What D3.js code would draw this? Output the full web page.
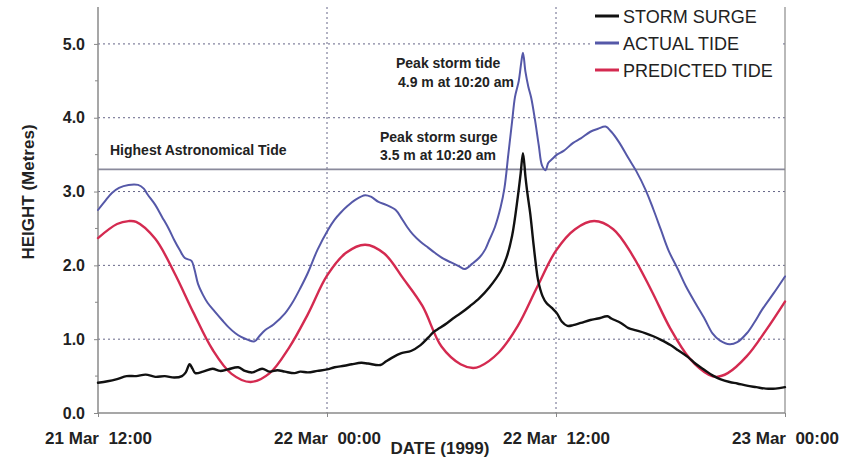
<!DOCTYPE html>
<html><head><meta charset="utf-8">
<script src="https://cdn.jsdelivr.net/npm/d3@7"></script>
<style>
html,body{margin:0;padding:0;background:#fff;}
svg{display:block;font-family:Arial,"Liberation Sans",Helvetica,sans-serif;}
</style></head>
<body>
<svg id="chart" width="852" height="457"></svg>
<script>
// ---- data (hours after 21 Mar 1999 12:00, height in metres) ----
const xTickHours = [0, 12, 24, 36];
const xTickLabels = ["21 Mar\u00a0\u00a012:00", "22 Mar\u00a0\u00a000:00", "22 Mar\u00a0\u00a012:00", "23 Mar\u00a0\u00a000:00"];
const yTickValues = [0, 1, 2, 3, 4, 5];
const yMinorTicks = [0.5, 1.5, 2.5, 3.5, 4.5];
const hatValue = 3.3;
const seriesNames = ["STORM SURGE", "ACTUAL TIDE", "PREDICTED TIDE"];

const surgeHours = [0,0.5,1,1.5,2,2.5,3,3.5,4,4.4,4.6,4.8,4.95,5.1,5.5,6,6.4,6.8,7.35,7.7,8.1,8.6,9,9.4,9.8,10.3,10.6,11,11.5,12,12.4,12.9,13.3,13.8,14.15,14.8,15.1,15.35,15.9,16.4,16.9,17.3,17.6,17.9,18.3,18.6,19,19.5,20,20.5,21.1,21.4,21.7,22.0,22.15,22.27,22.4,22.5,22.65,22.8,22.95,23.06,23.3,23.5,23.8,24.05,24.3,24.6,24.9,25.3,25.8,26.2,26.7,26.9,27.4,27.8,28.2,28.7,29.1,29.5,30,30.4,30.9,31.3,31.8,32.2,32.6,33.1,33.5,34,34.5,35,35.5,36];
const surgeValues = [0.41,0.43,0.46,0.50,0.50,0.52,0.49,0.50,0.48,0.50,0.55,0.66,0.60,0.54,0.56,0.60,0.57,0.59,0.62,0.57,0.55,0.60,0.56,0.58,0.56,0.54,0.56,0.55,0.57,0.59,0.62,0.64,0.66,0.68,0.67,0.65,0.70,0.74,0.81,0.84,0.92,1.02,1.10,1.15,1.22,1.28,1.35,1.45,1.56,1.70,1.92,2.10,2.40,2.93,3.25,3.52,3.20,2.98,2.70,2.34,2.00,1.80,1.58,1.49,1.42,1.35,1.24,1.18,1.19,1.22,1.26,1.28,1.31,1.28,1.22,1.15,1.12,1.08,1.04,0.99,0.92,0.85,0.76,0.67,0.58,0.51,0.46,0.42,0.40,0.37,0.35,0.33,0.33,0.35];

const actualHours = [0,0.4,0.73,1.1,1.6,2.1,2.4,2.6,3,3.35,3.7,4.0,4.3,4.55,4.9,5.05,5.24,5.5,5.75,6.1,6.5,6.85,7.2,7.5,7.86,8.2,8.45,8.75,9.2,9.8,10.2,10.6,11.0,11.5,12.05,12.4,12.7,13.1,13.5,14,14.3,14.7,15.1,15.6,15.9,16.2,16.5,16.9,17.3,17.65,18.1,18.5,18.9,19.23,19.6,20.0,20.3,20.5,20.8,21.1,21.3,21.5,21.7,21.85,22.05,22.18,22.27,22.4,22.55,22.7,22.9,23.1,23.27,23.45,23.6,23.8,24.05,24.4,24.9,25.3,25.8,26.2,26.6,26.9,27.3,27.8,28.2,28.7,29.1,29.5,29.9,30.4,30.8,31.3,31.8,32.2,32.6,33.1,33.5,34,34.4,34.8,35.4,36];
const actualValues = [2.75,2.88,2.98,3.05,3.09,3.09,3.04,2.96,2.82,2.66,2.50,2.34,2.20,2.10,2.06,1.95,1.75,1.60,1.49,1.38,1.26,1.16,1.08,1.03,0.99,0.97,1.04,1.12,1.20,1.35,1.50,1.69,1.90,2.21,2.48,2.62,2.71,2.81,2.89,2.95,2.93,2.86,2.82,2.75,2.64,2.52,2.42,2.32,2.24,2.17,2.09,2.04,1.99,1.95,2.02,2.11,2.22,2.34,2.52,2.79,3.05,3.50,3.95,4.28,4.50,4.75,4.88,4.62,4.42,4.27,3.97,3.62,3.35,3.29,3.39,3.44,3.50,3.55,3.66,3.72,3.81,3.85,3.88,3.81,3.67,3.45,3.28,3.02,2.76,2.48,2.20,1.94,1.72,1.49,1.27,1.08,0.98,0.93,0.96,1.08,1.23,1.40,1.62,1.85];

const predictedHours = [0,1,1.6,2,3,4,5,6,7,8,9,10,11,12,13,14,15,16,17,18,19,19.65,20,21,22,23,24,25,26,27,28,29,30,31,32,32.4,33,34,35,36];
const predictedValues = [2.37,2.56,2.60,2.59,2.36,1.90,1.36,0.86,0.53,0.42,0.54,0.88,1.34,1.86,2.17,2.28,2.16,1.82,1.45,0.90,0.66,0.61,0.63,0.82,1.18,1.70,2.20,2.49,2.60,2.49,2.14,1.66,1.14,0.74,0.52,0.49,0.54,0.77,1.12,1.51];

// ---- layout ----
const svg = d3.select("#chart");
const mLeft = 98, mRight = 785, mTop = 7, mBottom = 413;
const x = d3.scaleLinear().domain([0, 36]).range([mLeft, mRight]);
const y = d3.scaleLinear().domain([0, 5.5]).range([mBottom, mTop]);
const colors = ["#111111", "#5558a8", "#d42a50"];
const widths = [2.4, 2.0, 2.4];

// gridlines
const grid = svg.append("g");
grid.selectAll("line.h").data(yTickValues.filter(v => v > 0)).join("line")
  .attr("x1", mLeft).attr("x2", mRight).attr("y1", d => y(d)).attr("y2", d => y(d))
  .attr("stroke", "#666688").attr("stroke-width", 1).attr("stroke-dasharray", "2,3");
grid.selectAll("line.v").data(xTickHours.filter(h => h > 0 && h < 36)).join("line")
  .attr("x1", d => x(d)).attr("x2", d => x(d)).attr("y1", mTop).attr("y2", mBottom)
  .attr("stroke", "#666688").attr("stroke-width", 1).attr("stroke-dasharray", "2,3");

// HAT line
svg.append("line").attr("x1", mLeft).attr("x2", mRight)
  .attr("y1", y(hatValue)).attr("y2", y(hatValue))
  .attr("stroke", "#8a8a9c").attr("stroke-width", 1.6);

// axes
const yAxis = d3.axisLeft(y).tickValues(yTickValues).tickSize(4).tickFormat(d3.format(".1f"));
const gy = svg.append("g").attr("transform", `translate(${mLeft},0)`).call(yAxis);
gy.select(".domain").remove();
gy.selectAll(".tick line").attr("stroke", "#888");
gy.selectAll(".tick text").attr("x", -13).attr("font-size", 16).attr("font-weight", "bold")
  .attr("fill", "#222").attr("font-family", "Arial, 'Liberation Sans', sans-serif");
svg.append("g").selectAll("line").data(yMinorTicks).join("line")
  .attr("x1", mLeft - 3).attr("x2", mLeft).attr("y1", d => y(d)).attr("y2", d => y(d))
  .attr("stroke", "#888");
svg.append("line").attr("x1", mLeft).attr("x2", mLeft).attr("y1", mTop).attr("y2", mBottom)
  .attr("stroke", "#8a8a8a").attr("stroke-width", 1.5);
svg.append("line").attr("x1", mRight).attr("x2", mRight).attr("y1", mTop).attr("y2", mBottom)
  .attr("stroke", "#8a8a8a").attr("stroke-width", 1.2);

const xAxis = d3.axisBottom(x).tickValues(xTickHours).tickSize(4).tickFormat((d, i) => xTickLabels[i]);
const gx = svg.append("g").attr("transform", `translate(0,${mBottom})`).call(xAxis);
gx.select(".domain").remove();
gx.selectAll(".tick line").attr("stroke", "#888");
gx.selectAll(".tick text").attr("y", 19).attr("font-size", 17).attr("font-weight", "bold")
  .attr("fill", "#222").attr("font-family", "Arial, 'Liberation Sans', sans-serif");
svg.append("line").attr("x1", mLeft).attr("x2", mRight).attr("y1", mBottom).attr("y2", mBottom)
  .attr("stroke", "#8a8a8a").attr("stroke-width", 1.5);

// axis titles
svg.append("text").attr("x", 440).attr("y", 454).attr("text-anchor", "middle")
  .attr("font-size", 17).attr("font-weight", "bold").attr("fill", "#222").text("DATE (1999)");
svg.append("text").attr("transform", "translate(34,192) rotate(-90)").attr("text-anchor", "middle")
  .attr("font-size", 17).attr("font-weight", "bold").attr("fill", "#222").text("HEIGHT (Metres)");

// lines
const series = [
  {h: surgeHours, v: surgeValues},
  {h: actualHours, v: actualValues},
  {h: predictedHours, v: predictedValues}
];
const line = d3.line().x(d => x(d[0])).y(d => y(d[1])).curve(d3.curveCatmullRom.alpha(0.5));
const drawOrder = [2, 1, 0];
drawOrder.forEach(i => {
  const s = series[i];
  const pts = s.h.map((h, k) => [h, s.v[k]]);
  svg.append("path").datum(pts).attr("d", line).attr("fill", "none")
    .attr("stroke", colors[i]).attr("stroke-width", widths[i])
    .attr("stroke-linejoin", "round").attr("stroke-linecap", "round");
});

// annotations
const ann = svg.append("g").attr("font-size", 14).attr("font-weight", "bold").attr("fill", "#222");
ann.append("text").attr("x", 110).attr("y", 155).text("Highest Astronomical Tide");
ann.append("text").attr("x", 396).attr("y", 68).text("Peak storm tide");
ann.append("text").attr("x", 398).attr("y", 87).text("4.9 m at 10:20 am");
ann.append("text").attr("x", 380).attr("y", 142).text("Peak storm surge");
ann.append("text").attr("x", 380).attr("y", 160).text("3.5 m at 10:20 am");

// legend
const lg = svg.append("g");
lg.append("rect").attr("x", 590).attr("y", 0).attr("width", 193).attr("height", 84).attr("fill", "#fff");
seriesNames.forEach((name, i) => {
  const cy = 16 + i * 27;
  lg.append("line").attr("x1", 595).attr("x2", 619).attr("y1", cy).attr("y2", cy)
    .attr("stroke", colors[i]).attr("stroke-width", 3);
  lg.append("text").attr("x", 623).attr("y", cy + 6.5).attr("font-size", 18)
    .attr("fill", "#222").text(name);
});
</script>
</body></html>
